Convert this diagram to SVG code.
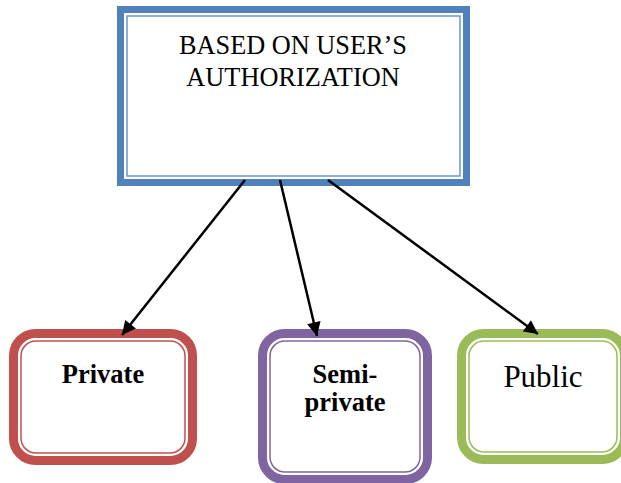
<svg xmlns="http://www.w3.org/2000/svg" width="621" height="483" viewBox="0 0 621 483">
<style>
.t{font-family:"Liberation Serif","Times New Roman",serif;fill:#000;text-anchor:middle}
.b{font-weight:bold}
.conn line{stroke:#000;stroke-width:2.5}
.thin{fill:none;stroke-width:1.5}
</style>
<defs>
<marker id="ah" viewBox="0 0 10 10" refX="10" refY="5" markerWidth="6" markerHeight="5.5" markerUnits="strokeWidth" orient="auto">
<path d="M0,0 L10,5 L0,10 z" fill="#000"/>
</marker>
</defs>
<rect width="621" height="483" fill="#fff"/>
<g id="root">
<rect x="120.5" y="9.5" width="346" height="173" fill="#fff" stroke="#4F81BD" stroke-width="7"/>
<rect x="127" y="16" width="333" height="160" class="thin" stroke="#6A95CA"/>
<text class="t" x="293" y="54" font-size="26.3">BASED ON USER’S</text>
<text class="t" x="293" y="86" font-size="26.3">AUTHORIZATION</text>
</g>
<g id="private">
<rect x="13.5" y="333.5" width="179" height="127" rx="22" fill="#fff" stroke="#C0504D" stroke-width="9"/>
<rect x="21" y="341" width="164" height="112" rx="15" class="thin" stroke="#C0504D"/>
<text class="t b" x="103" y="383" font-size="26.5">Private</text>
</g>
<g id="semiprivate">
<rect x="262.5" y="333.5" width="165" height="146" rx="22" fill="#fff" stroke="#8064A2" stroke-width="9"/>
<rect x="270" y="341" width="150" height="131" rx="15" class="thin" stroke="#8064A2"/>
<text class="t b" x="345" y="383" font-size="26.5">Semi-</text>
<text class="t b" x="345" y="411" font-size="26.5">private</text>
</g>
<g id="public">
<rect x="461.5" y="333.5" width="163" height="126" rx="22" fill="#fff" stroke="#9BBB59" stroke-width="9"/>
<rect x="469" y="341" width="148" height="111" rx="15" class="thin" stroke="#9BBB59"/>
<text class="t" x="543" y="387" font-size="31">Public</text>
</g>
<g class="conn">
<line x1="245" y1="180" x2="122" y2="335" marker-end="url(#ah)"/>
<line x1="280" y1="180" x2="317" y2="336" marker-end="url(#ah)"/>
<line x1="328" y1="180" x2="538" y2="334" marker-end="url(#ah)"/>
</g>
</svg>
